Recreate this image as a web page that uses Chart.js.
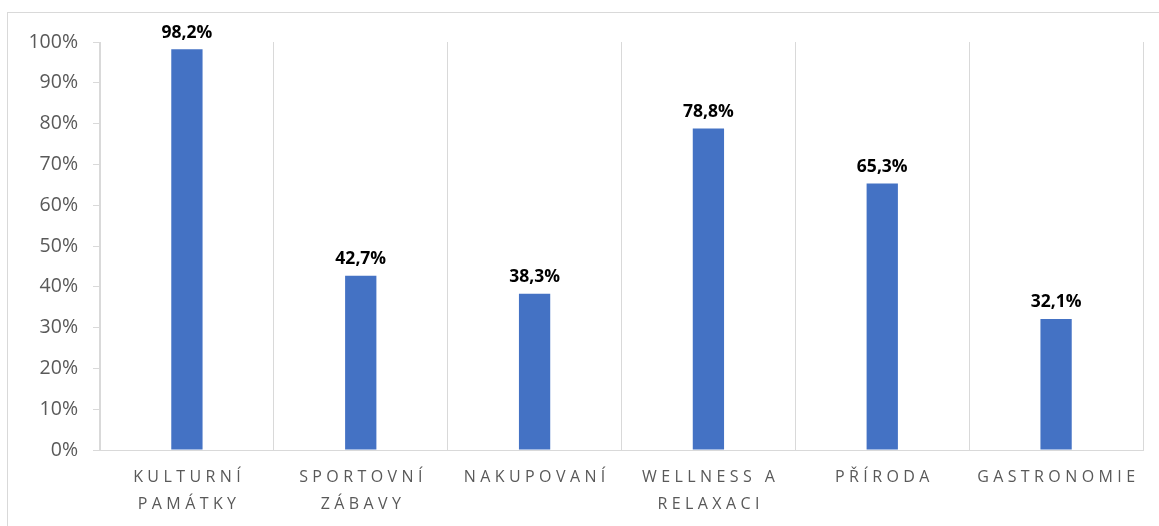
<!DOCTYPE html>
<html>
<head>
<meta charset="utf-8">
<title>Chart</title>
<script src="https://cdn.jsdelivr.net/npm/chart.js@4.4.1/dist/chart.umd.min.js"></script>
<style>
  body { margin: 0; overflow: hidden; background: #fff; }
  .frame {
    position: absolute; left: 7px; top: 12px;
    width: 1200px; height: 600px;
    border: 1px solid #d9d9d9;
  }
  #myChart { position: absolute; left: 0; top: 0; }
</style>
</head>
<body>
<div class="frame"></div>
<canvas id="myChart" width="1159" height="526"></canvas>

<script>
  // data
  const categories = [
    ["KULTURNÍ", "PAMÁTKY"],
    ["SPORTOVNÍ", "ZÁBAVY"],
    ["NAKUPOVANÍ"],
    ["WELLNESS A", "RELAXACI"],
    ["PŘÍRODA"],
    ["GASTRONOMIE"]
  ];
  const values = [98.2, 42.7, 38.3, 78.8, 65.3, 32.1];
  const valueLabels = ["98,2%", "42,7%", "38,3%", "78,8%", "65,3%", "32,1%"];

  const FONT = "'Open Sans', 'Liberation Sans', sans-serif";
  const GRID = '#d9d9d9';

  // bold value labels above bars
  const barLabels = {
    id: 'barLabels',
    afterDatasetsDraw(chart) {
      const ctx = chart.ctx;
      const meta = chart.getDatasetMeta(0);
      ctx.save();
      ctx.font = 'bold 17.5px ' + FONT;
      ctx.fillStyle = '#000';
      ctx.textAlign = 'center';
      ctx.textBaseline = 'bottom';
      meta.data.forEach((bar, i) => {
        ctx.fillText(valueLabels[i], bar.x, bar.y - 8);
      });
      ctx.restore();
    }
  };

  // spaced-out category labels under the x axis
  const catLabels = {
    id: 'catLabels',
    afterDraw(chart) {
      const ctx = chart.ctx;
      const sc = chart.scales.x;
      const sp = 4.4;
      ctx.save();
      ctx.font = '16px ' + FONT;
      ctx.fillStyle = '#595959';
      ctx.textAlign = 'center';
      ctx.textBaseline = 'middle';
      ctx.letterSpacing = sp + 'px';
      categories.forEach((lines, i) => {
        const x = sc.getPixelForTick(i) + sp / 2;
        lines.forEach((t, j) => {
          ctx.fillText(t, x, sc.top + 27 + j * 27);
        });
      });
      ctx.restore();
    }
  };

  const ctx = document.getElementById('myChart');
  const myChart = new Chart(ctx, {
    type: 'bar',
    data: {
      labels: categories.map(c => c.join(' ')),
      datasets: [{
        data: values,
        backgroundColor: '#4472C4',
        borderWidth: 0,
        categoryPercentage: 1,
        barPercentage: 0.18
      }]
    },
    options: {
      responsive: false,
      animation: false,
      devicePixelRatio: 1,
      layout: { padding: { top: 42, right: 16, left: 0, bottom: 0 } },
      plugins: { legend: { display: false }, tooltip: { enabled: false } },
      scales: {
        x: {
          offset: true,
          grid: { color: GRID, lineWidth: 1, offset: true, drawTicks: false },
          border: { color: GRID, width: 1 },
          ticks: { display: false },
          afterFit: s => { s.height = 76; }
        },
        y: {
          min: 0,
          max: 100,
          ticks: {
            stepSize: 10,
            padding: 15,
            color: '#595959',
            font: { size: 19.5, family: FONT },
            callback: v => v + '%'
          },
          grid: { drawOnChartArea: false, color: GRID, tickLength: 7 },
          border: { color: GRID, width: 1 },
          afterFit: s => { s.width = 100; }
        }
      }
    },
    plugins: [barLabels, catLabels]
  });
</script>
</body>
</html>
